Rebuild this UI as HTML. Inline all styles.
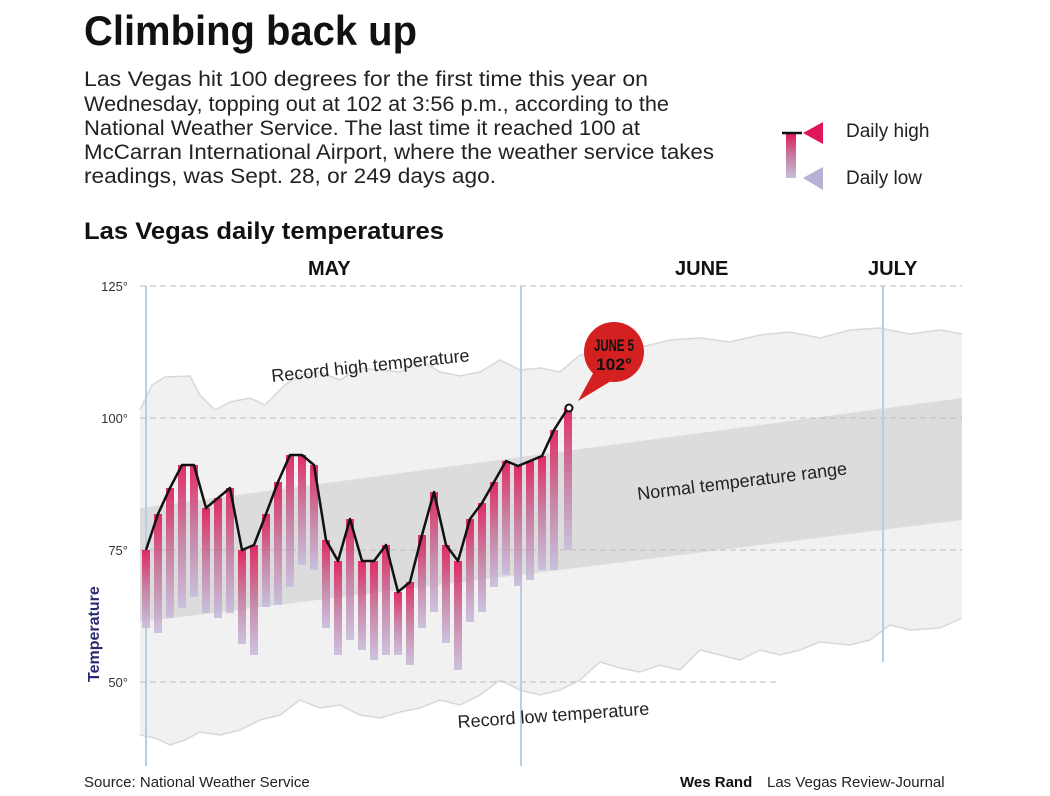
<!DOCTYPE html>
<html><head><meta charset="utf-8"><style>
body{margin:0;width:1050px;height:791px;background:#fff;font-family:"Liberation Sans",sans-serif;overflow:hidden}
</style></head><body>
<svg width="1050" height="791" xmlns="http://www.w3.org/2000/svg" font-family="Liberation Sans, sans-serif">
<defs>
<linearGradient id="bar" x1="0" y1="0" x2="0" y2="1">
<stop offset="0" stop-color="#e0185a"/><stop offset="0.5" stop-color="#c67aa0"/><stop offset="1" stop-color="#c8bedc"/>
</linearGradient>
</defs>
<text x="84" y="45" font-size="42" font-weight="bold" fill="#111" textLength="333" lengthAdjust="spacingAndGlyphs">Climbing back up</text>
<g font-size="21" fill="#222" lengthAdjust="spacingAndGlyphs">
<text x="84" y="86" textLength="564" lengthAdjust="spacingAndGlyphs">Las Vegas hit 100 degrees for the first time this year on</text>
<text x="84" y="111" textLength="585" lengthAdjust="spacingAndGlyphs">Wednesday, topping out at 102 at 3:56 p.m., according to the</text>
<text x="84" y="135" textLength="556" lengthAdjust="spacingAndGlyphs">National Weather Service. The last time it reached 100 at</text>
<text x="84" y="159" textLength="630" lengthAdjust="spacingAndGlyphs">McCarran International Airport, where the weather service takes</text>
<text x="84" y="183" textLength="412" lengthAdjust="spacingAndGlyphs">readings, was Sept. 28, or 249 days ago.</text>
</g>
<!-- legend -->
<rect x="786" y="133" width="10" height="45" fill="url(#bar)"/>
<line x1="782" y1="133" x2="802" y2="133" stroke="#111" stroke-width="2.5"/>
<polygon points="803,133 823,122 823,144" fill="#e0185a"/>
<polygon points="803,178 823,167 823,190" fill="#b9b0d6"/>
<text x="846" y="137" font-size="19" fill="#222">Daily high</text>
<text x="846" y="184" font-size="19" fill="#222">Daily low</text>
<text x="84" y="239" font-size="24" font-weight="bold" fill="#111" textLength="360" lengthAdjust="spacingAndGlyphs">Las Vegas daily temperatures</text>
<g font-size="20" font-weight="bold" fill="#111">
<text x="308" y="275">MAY</text><text x="675" y="275">JUNE</text><text x="868" y="275">JULY</text>
</g>
<!-- record area -->
<polygon fill="#f1f1f1" points="140,410 152,385 165,377 190,376 200,395 215,410 230,402 250,398 265,405 285,385 300,375 320,372 340,380 360,368 380,370 400,372 420,360 440,372 460,376 480,372 500,360 520,370 540,368 560,372 580,355 600,352 620,350 650,345 670,340 700,338 730,342 760,335 790,332 820,338 850,330 880,328 910,334 940,330 962,334
962,618 940,628 910,630 890,625 870,640 850,645 820,642 800,650 780,655 760,650 740,660 720,655 700,650 680,670 660,665 640,672 620,668 600,662 580,680 560,690 540,695 520,690 500,680 480,695 460,705 440,700 420,708 400,712 380,718 360,715 340,705 320,708 300,700 280,715 260,720 240,730 220,735 200,732 185,740 170,745 155,738 140,735"/>
<polyline fill="none" stroke="#d8d8d8" stroke-width="1.5" points="140,410 152,385 165,377 190,376 200,395 215,410 230,402 250,398 265,405 285,385 300,375 320,372 340,380 360,368 380,370 400,372 420,360 440,372 460,376 480,372 500,360 520,370 540,368 560,372 580,355 600,352 620,350 650,345 670,340 700,338 730,342 760,335 790,332 820,338 850,330 880,328 910,334 940,330 962,334"/>
<polyline fill="none" stroke="#d8d8d8" stroke-width="1.5" points="962,618 940,628 910,630 890,625 870,640 850,645 820,642 800,650 780,655 760,650 740,660 720,655 700,650 680,670 660,665 640,672 620,668 600,662 580,680 560,690 540,695 520,690 500,680 480,695 460,705 440,700 420,708 400,712 380,718 360,715 340,705 320,708 300,700 280,715 260,720 240,730 220,735 200,732 185,740 170,745 155,738 140,735"/>
<!-- normal band -->
<polygon fill="#dcdcdc" points="140,508 962,398 962,520 140,622"/>
<!-- gridlines -->
<g stroke="#bbb" stroke-dasharray="6,4" stroke-width="1">
<line x1="140" y1="286" x2="962" y2="286"/><line x1="140" y1="418" x2="962" y2="418"/>
<line x1="140" y1="550" x2="962" y2="550"/><line x1="140" y1="682" x2="780" y2="682"/>
</g>
<g stroke="#b8cfe0" stroke-width="2">
<line x1="146" y1="286" x2="146" y2="766"/><line x1="521" y1="286" x2="521" y2="766"/><line x1="883" y1="286" x2="883" y2="662"/>
</g>
<g font-size="13" fill="#333" text-anchor="end">
<text x="128" y="291">125°</text><text x="128" y="423">100°</text><text x="128" y="555">75°</text><text x="128" y="687">50°</text>
</g>
<text transform="translate(99,682) rotate(-90)" font-size="16" font-weight="bold" fill="#2a2a70">Temperature</text>
<text transform="translate(272,382) rotate(-6)" font-size="18" fill="#222">Record high temperature</text>
<text transform="translate(638,500) rotate(-7)" font-size="18" fill="#222">Normal temperature range</text>
<text transform="translate(458,728) rotate(-4)" font-size="18" fill="#222">Record low temperature</text>
<!-- bars -->
<g fill="url(#bar)" opacity="0.9">
<rect x="142" y="550" width="8" height="78"/><rect x="154" y="514" width="8" height="119"/><rect x="166" y="488" width="8" height="130"/><rect x="178" y="465" width="8" height="143"/><rect x="190" y="465" width="8" height="132"/><rect x="202" y="508" width="8" height="105"/><rect x="214" y="498" width="8" height="120"/><rect x="226" y="488" width="8" height="125"/><rect x="238" y="550" width="8" height="94"/><rect x="250" y="545" width="8" height="110"/><rect x="262" y="514" width="8" height="93"/><rect x="274" y="482" width="8" height="123"/><rect x="286" y="455" width="8" height="132"/><rect x="298" y="455" width="8" height="110"/><rect x="310" y="465" width="8" height="105"/><rect x="322" y="540" width="8" height="88"/><rect x="334" y="561" width="8" height="94"/><rect x="346" y="519" width="8" height="121"/><rect x="358" y="561" width="8" height="89"/><rect x="370" y="561" width="8" height="99"/><rect x="382" y="545" width="8" height="110"/><rect x="394" y="592" width="8" height="63"/><rect x="406" y="582" width="8" height="83"/><rect x="418" y="535" width="8" height="93"/><rect x="430" y="492" width="8" height="120"/><rect x="442" y="545" width="8" height="98"/><rect x="454" y="561" width="8" height="109"/><rect x="466" y="519" width="8" height="103"/><rect x="478" y="503" width="8" height="109"/><rect x="490" y="482" width="8" height="105"/><rect x="502" y="461" width="8" height="114"/><rect x="514" y="466" width="8" height="120"/><rect x="526" y="461" width="8" height="119"/><rect x="538" y="456" width="8" height="114"/><rect x="550" y="430" width="8" height="140"/><rect x="564" y="408" width="8" height="142"/>
</g>
<polyline fill="none" stroke="#111" stroke-width="2.5" stroke-linejoin="round" points="146,550 158,514 170,488 182,465 194,465 206,508 218,498 230,488 242,550 254,545 266,514 278,482 290,455 302,455 314,465 326,540 338,561 350,519 362,561 374,561 386,545 398,592 410,582 422,535 434,492 446,545 458,561 470,519 482,503 494,482 506,461 518,466 530,461 542,456 554,430 568,408"/>
<circle cx="569" cy="408" r="3.5" fill="#fff" stroke="#111" stroke-width="2"/>
<!-- bubble -->
<polygon points="578,401 596,368 616,378" fill="#d42020"/>
<circle cx="614" cy="352" r="30" fill="#d42020"/>
<text x="614" y="351" font-size="17" font-weight="bold" fill="#111" text-anchor="middle" textLength="40" lengthAdjust="spacingAndGlyphs">JUNE 5</text>
<text x="614" y="370" font-size="17" font-weight="bold" fill="#111" text-anchor="middle" textLength="36" lengthAdjust="spacingAndGlyphs">102°</text>
<text x="84" y="787" font-size="15" fill="#222">Source: National Weather Service</text>
<text x="680" y="787" font-size="15" font-weight="bold" fill="#111">Wes Rand</text>
<text x="767" y="787" font-size="15" fill="#222">Las Vegas Review-Journal</text>
</svg>
</body></html>
